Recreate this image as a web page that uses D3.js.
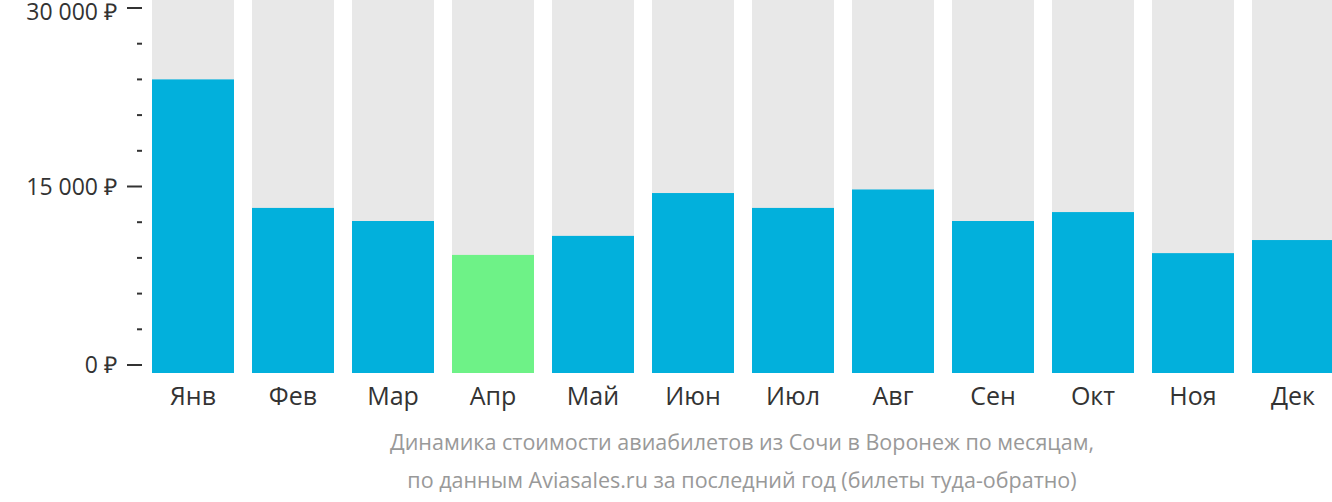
<!DOCTYPE html><html><head><meta charset="utf-8"><script src="https://cdn.jsdelivr.net/npm/d3@7"></script>
<style>body{margin:0;background:#fff;font-family:"Open Sans",sans-serif}</style></head><body><svg id="c" width="1332" height="502"></svg>
<script>
const months=["Янв","Фев","Мар","Апр","Май","Июн","Июл","Авг","Сен","Окт","Ноя","Дек"];
const prices=[24000,13200,12100,9250,10850,14450,13200,14750,12100,12850,9400,10500];
const highlight="Апр";
const tickValues=[0,15000,30000];
const caption=["Динамика стоимости авиабилетов из Сочи в Воронеж по месяцам,","по данным Aviasales.ru за последний год (билеты туда-обратно)"];
const svg=d3.select("#c");
const x=d3.scaleBand().domain(months).range([143,1343]).paddingInner(0.18).paddingOuter(0.09);
const y=d3.scaleLinear().domain([0,30000]).range([365,8]);
const base=y(0)+8;
svg.selectAll(".bg").data(months).join("rect").attr("x",d=>x(d)).attr("width",x.bandwidth()).attr("y",0).attr("height",base).attr("fill","#e8e8e8");
svg.selectAll(".b").data(prices).join("rect").attr("x",(d,i)=>x(months[i])).attr("width",x.bandwidth()).attr("y",d=>y(d)).attr("height",d=>base-y(d)).attr("fill",(d,i)=>months[i]===highlight?"#6ef287":"#02b0dc");
const minor=d3.range(0,30001,3000);
svg.selectAll(".mt").data(minor).join("line").attr("x1",d=>tickValues.includes(d)?127:137).attr("x2",142).attr("y1",d=>y(d)).attr("y2",d=>y(d)).attr("stroke","#333").attr("stroke-width",2);
const fmt=v=>d3.format(",")(v).replace(/,/g," ")+" ₽";
svg.selectAll(".tl").data(tickValues).join("text").attr("x",117).attr("y",d=>Math.max(y(d),12)).attr("dy","0.35em").attr("text-anchor","end").attr("font-size",23).attr("fill","#333").text(fmt);
svg.selectAll(".ml").data(months).join("text").attr("x",d=>x(d)+x.bandwidth()/2).attr("y",405).attr("text-anchor","middle").attr("font-size",25).attr("fill","#333").text(d=>d);
svg.selectAll(".cap").data(caption).join("text").attr("x",742).attr("y",(d,i)=>450+i*38).attr("text-anchor","middle").attr("font-size",21.5).attr("fill","#999").text(d=>d);
</script></body></html>
